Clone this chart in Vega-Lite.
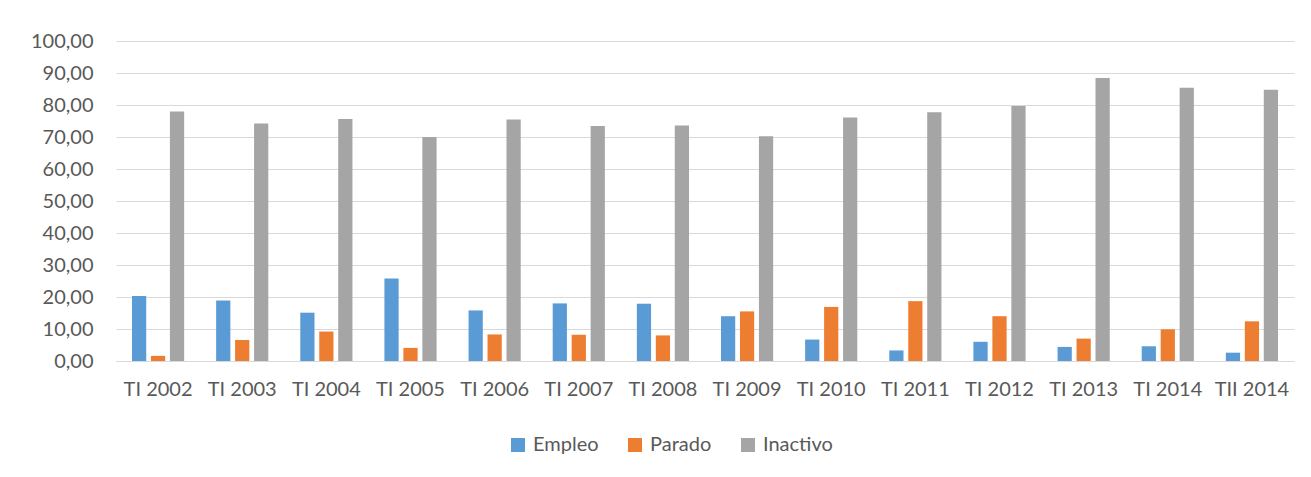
{
  "$schema": "https://vega.github.io/schema/vega-lite/v6.json",
  "autosize": "none",
  "width": 1178,
  "height": 320,
  "padding": {"left": 116, "top": 41, "right": 17, "bottom": 116},
  "background": "white",
  "data": {
    "values": [
      {"periodo": "TI 2002", "serie": "Empleo", "valor": 20.3},
      {"periodo": "TI 2002", "serie": "Parado", "valor": 1.6},
      {"periodo": "TI 2002", "serie": "Inactivo", "valor": 78.0},
      {"periodo": "TI 2003", "serie": "Empleo", "valor": 18.9},
      {"periodo": "TI 2003", "serie": "Parado", "valor": 6.6},
      {"periodo": "TI 2003", "serie": "Inactivo", "valor": 74.2},
      {"periodo": "TI 2004", "serie": "Empleo", "valor": 15.1},
      {"periodo": "TI 2004", "serie": "Parado", "valor": 9.2},
      {"periodo": "TI 2004", "serie": "Inactivo", "valor": 75.6},
      {"periodo": "TI 2005", "serie": "Empleo", "valor": 25.8},
      {"periodo": "TI 2005", "serie": "Parado", "valor": 4.1},
      {"periodo": "TI 2005", "serie": "Inactivo", "valor": 70.0},
      {"periodo": "TI 2006", "serie": "Empleo", "valor": 15.8},
      {"periodo": "TI 2006", "serie": "Parado", "valor": 8.3},
      {"periodo": "TI 2006", "serie": "Inactivo", "valor": 75.5},
      {"periodo": "TI 2007", "serie": "Empleo", "valor": 18.0},
      {"periodo": "TI 2007", "serie": "Parado", "valor": 8.2},
      {"periodo": "TI 2007", "serie": "Inactivo", "valor": 73.4},
      {"periodo": "TI 2008", "serie": "Empleo", "valor": 17.9},
      {"periodo": "TI 2008", "serie": "Parado", "valor": 8.0},
      {"periodo": "TI 2008", "serie": "Inactivo", "valor": 73.6},
      {"periodo": "TI 2009", "serie": "Empleo", "valor": 14.0},
      {"periodo": "TI 2009", "serie": "Parado", "valor": 15.5},
      {"periodo": "TI 2009", "serie": "Inactivo", "valor": 70.2},
      {"periodo": "TI 2010", "serie": "Empleo", "valor": 6.7},
      {"periodo": "TI 2010", "serie": "Parado", "valor": 16.9},
      {"periodo": "TI 2010", "serie": "Inactivo", "valor": 76.1},
      {"periodo": "TI 2011", "serie": "Empleo", "valor": 3.3},
      {"periodo": "TI 2011", "serie": "Parado", "valor": 18.7},
      {"periodo": "TI 2011", "serie": "Inactivo", "valor": 77.7},
      {"periodo": "TI 2012", "serie": "Empleo", "valor": 6.0},
      {"periodo": "TI 2012", "serie": "Parado", "valor": 14.0},
      {"periodo": "TI 2012", "serie": "Inactivo", "valor": 79.7},
      {"periodo": "TI 2013", "serie": "Empleo", "valor": 4.4},
      {"periodo": "TI 2013", "serie": "Parado", "valor": 7.0},
      {"periodo": "TI 2013", "serie": "Inactivo", "valor": 88.4},
      {"periodo": "TI 2014", "serie": "Empleo", "valor": 4.6},
      {"periodo": "TI 2014", "serie": "Parado", "valor": 9.9},
      {"periodo": "TI 2014", "serie": "Inactivo", "valor": 85.4},
      {"periodo": "TII 2014", "serie": "Empleo", "valor": 2.6},
      {"periodo": "TII 2014", "serie": "Parado", "valor": 12.4},
      {"periodo": "TII 2014", "serie": "Inactivo", "valor": 84.8}
    ]
  },
  "mark": {"type": "bar"},
  "encoding": {
    "x": {
      "field": "periodo",
      "type": "nominal",
      "sort": null,
      "title": null,
      "scale": {"paddingInner": 0.38, "paddingOuter": 0.19},
      "axis": {
        "labelAngle": 0,
        "ticks": false,
        "domain": true,
        "domainColor": "#d9d9d9",
        "domainWidth": 1,
        "grid": false,
        "labelPadding": 18,
        "labelFont": "Lato",
        "labelFontSize": 20,
        "labelColor": "#595959"
      }
    },
    "xOffset": {
      "field": "serie",
      "type": "nominal",
      "sort": ["Empleo", "Parado", "Inactivo"],
      "scale": {"paddingInner": 0.25, "paddingOuter": 0}
    },
    "y": {
      "field": "valor",
      "type": "quantitative",
      "title": null,
      "scale": {"domain": [0, 100], "nice": false},
      "axis": {
        "values": [0, 10, 20, 30, 40, 50, 60, 70, 80, 90, 100],
        "labelExpr": "replace(format(datum.value, '.2f'), '.', ',')",
        "domain": false,
        "ticks": false,
        "grid": true,
        "gridColor": "#d9d9d9",
        "gridWidth": 1,
        "labelPadding": 23,
        "labelFont": "Lato",
        "labelFontSize": 20,
        "labelColor": "#595959"
      }
    },
    "color": {
      "field": "serie",
      "type": "nominal",
      "sort": ["Empleo", "Parado", "Inactivo"],
      "scale": {"domain": ["Empleo", "Parado", "Inactivo"], "range": ["#5B9BD5", "#ED7D31", "#A5A5A5"]},
      "legend": {
        "title": null,
        "orient": "none",
        "direction": "horizontal",
        "legendX": 392,
        "legendY": 394,
        "symbolType": "square",
        "symbolSize": 196,
        "symbolStrokeWidth": 0,
        "symbolOpacity": 1,
        "labelFont": "Lato",
        "labelFontSize": 20,
        "labelColor": "#595959",
        "labelOffset": 5,
        "columnPadding": 26
      }
    }
  },
  "config": {
    "view": {"stroke": null}
  }
}
